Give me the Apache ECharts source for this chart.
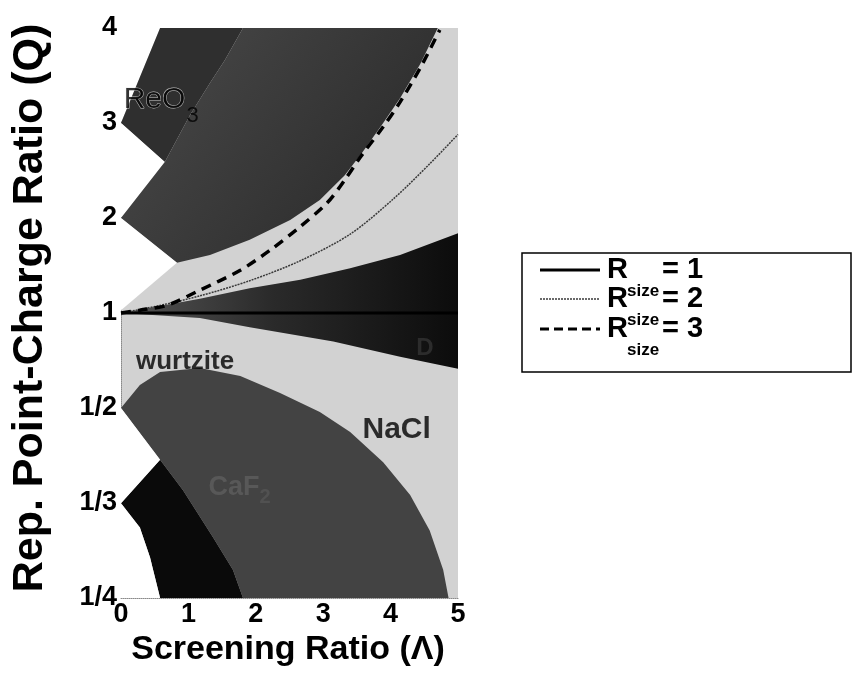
<!DOCTYPE html>
<html>
<head>
<meta charset="utf-8">
<script src="https://cdn.jsdelivr.net/npm/echarts@6/dist/echarts.min.js"></script>
<style>
  html, body { margin: 0; padding: 0; background: #ffffff; }
  #chart { width: 853px; height: 679px; }
</style>
</head>
<body>
<div id="chart"></div>
<script>
// ---- axis ticks ----
const lambdaTicks = [0, 1, 2, 3, 4, 5];
const qTickLabels = ['1/4', '1/3', '1/2', '1', '2', '3', '4'];

// ---- phase regions, vertices as [Λ, Q] ----
const whiteTopLeft = [[0, 4], [0.58, 4], [0, 3]];
const regionReO3 = [[0, 3], [0.58, 4], [1.81, 4], [1.54, 3.66], [1.32, 3.42], [1.02, 3.08], [0.65, 2.59]];
const whiteNotchUpper = [[0, 3], [0.65, 2.59], [0, 2]];
const regionUpperDark = [
  [0.65, 2.59], [1.02, 3.08], [1.32, 3.42], [1.54, 3.66], [1.81, 4], [4.70, 4],
  [4.44, 3.62], [4.14, 3.26], [3.89, 3.0], [3.58, 2.69], [3.32, 2.45], [2.95, 2.19],
  [2.51, 1.98], [1.91, 1.77], [1.32, 1.61], [0.83, 1.53], [0, 2]
];
const whiteTriangle = [[0, 2], [0.83, 1.53], [0, 1.03]];
const wedgeUpper = [[0, 1], [1.17, 1.15], [1.91, 1.26], [2.66, 1.35], [3.40, 1.47], [4.14, 1.61], [5, 1.84]];
const wedgeLower = [[5, 0.63], [4.14, 0.685], [3.15, 0.77], [1.91, 0.87], [1.17, 0.95], [0, 1]];
const regionCaF2 = [
  [0, 0.5], [0.28, 0.569], [0.58, 0.617], [1.17, 0.633], [1.77, 0.601], [2.36, 0.543],
  [2.95, 0.490], [3.40, 0.444], [3.89, 0.389], [4.29, 0.343], [4.58, 0.304], [4.78, 0.270],
  [4.86, 0.25], [1.81, 0.25], [1.66, 0.270], [1.36, 0.298], [0.92, 0.349], [0.58, 0.393]
];
const regionBottomBlack = [
  [0.58, 0.393], [0, 0.333], [0.28, 0.307], [0.43, 0.280], [0.58, 0.25], [1.81, 0.25],
  [1.66, 0.270], [1.36, 0.298], [0.92, 0.349]
];
const whiteNotchLower = [[0, 0.5], [0.58, 0.393], [0, 0.333]];
const whiteBottomLeft = [[0, 0.333], [0.28, 0.307], [0.43, 0.280], [0.58, 0.25], [0, 0.25]];

// ---- boundary curves, [Λ, Q] ----
const lineRsize1 = [[0, 1], [5, 1]];
const lineRsize2 = [[0, 1], [0.58, 1.08], [1.17, 1.18], [1.91, 1.34], [2.66, 1.55], [3.40, 1.83], [4.04, 2.20], [4.58, 2.57], [5, 2.88]];
const lineRsize3 = [[0, 1], [0.28, 1.03], [0.68, 1.08], [1.17, 1.24], [1.77, 1.45], [2.21, 1.66], [2.66, 1.91], [3.06, 2.16], [3.32, 2.40], [3.55, 2.64], [3.89, 2.96], [4.14, 3.22], [4.44, 3.58], [4.73, 3.98]];

// ---- region names, [Λ, Q, text, alignment] ----
const regionLabels = [
  [0.04, 3.25, '{n|ReO}{s|3}', 'left'],
  [0.95, 0.66, '{b|wurtzite}', 'center'],
  [4.09, 0.448, '{c|NaCl}', 'center'],
  [1.76, 0.353, '{f|CaF}{fs|2}', 'center'],
  [4.51, 0.73, '{d|D}', 'center']
];

// Q axis: linear in Q above 1, linear in 1/Q below 1
const toAxis = q => (q >= 1 ? q - 1 : 1 - 1 / q);
const toPoints = arr => arr.map(p => [p[0], toAxis(p[1])]);

const FONT = '"Liberation Sans", Arial, sans-serif';

function region(name, vertices, fill, z) {
  return {
    type: 'custom',
    name: name,
    coordinateSystem: 'cartesian2d',
    silent: true,
    z: z,
    data: toPoints(vertices),
    encode: { x: 0, y: 1 },
    renderItem: function (params, api) {
      if (params.dataIndex !== 0) return null;
      const pts = vertices.map(v => api.coord([v[0], toAxis(v[1])]));
      return { type: 'polygon', shape: { points: pts }, style: { fill: fill } };
    }
  };
}

const chart = echarts.init(document.getElementById('chart'), null, { renderer: 'canvas' });

const legendRows = [
  { y: 270, value: '1' },
  { y: 299, value: '2' },
  { y: 329, value: '3' }
];
const legendText = [];
legendRows.forEach(r => {
  legendText.push(
    { type: 'text', x: 607, y: r.y, z: 11, style: { text: 'R', font: 'bold 29px ' + FONT, fill: '#000', textVerticalAlign: 'middle' } },
    { type: 'text', x: 627, y: r.y + 21, z: 11, style: { text: 'size', font: 'bold 17px ' + FONT, fill: '#000', textVerticalAlign: 'middle' } },
    { type: 'text', x: 662, y: r.y, z: 11, style: { text: '= ' + r.value, font: 'bold 29px ' + FONT, fill: '#000', textVerticalAlign: 'middle' } }
  );
});

const option = {
  animation: false,
  backgroundColor: '#ffffff',
  grid: {
    left: 121, right: 395, top: 28, bottom: 81,
    show: true, backgroundColor: '#d2d2d2', borderWidth: 0
  },
  xAxis: {
    type: 'value', min: lambdaTicks[0], max: lambdaTicks[lambdaTicks.length - 1], interval: 1,
    axisLine: { onZero: false, lineStyle: { color: '#8a8a8a', width: 1, type: 'dotted' } },
    axisTick: { show: false },
    splitLine: { show: false },
    axisLabel: { fontSize: 27, fontWeight: 'bold', color: '#000', fontFamily: FONT, margin: 3 }
  },
  yAxis: {
    type: 'value', min: -3, max: 3, interval: 1,
    axisLine: { onZero: false, lineStyle: { color: '#8a8a8a', width: 1, type: 'dotted' } },
    axisTick: { show: false },
    splitLine: { show: false },
    axisLabel: {
      fontSize: 27, fontWeight: 'bold', color: '#000', fontFamily: FONT, margin: 4,
      formatter: v => qTickLabels[Math.round(v) + 3]
    }
  },
  series: [
    region('white-top', whiteTopLeft, '#ffffff', 1),
    region('ReO3', regionReO3, '#2f2f2f', 1),
    region('white-notch-upper', whiteNotchUpper, '#ffffff', 1),
    region('upper-dark', regionUpperDark, {
      type: 'linear', x: 0, y: 0, x2: 1, y2: 1,
      colorStops: [{ offset: 0, color: '#4a4a4a' }, { offset: 1, color: '#262626' }]
    }, 1),
    region('white-triangle', whiteTriangle, '#ffffff', 1),
    region('wedge', wedgeUpper.concat(wedgeLower), {
      type: 'linear', x: 0, y: 0, x2: 1, y2: 0,
      colorStops: [{ offset: 0, color: '#555555' }, { offset: 0.45, color: '#2a2a2a' }, { offset: 1, color: '#0c0c0c' }]
    }, 1),
    region('CaF2', regionCaF2, '#434343', 1),
    region('bottom-black', regionBottomBlack, '#0a0a0a', 1),
    region('white-notch-lower', whiteNotchLower, '#ffffff', 1),
    region('white-bottom', whiteBottomLeft, '#ffffff', 1),
    {
      type: 'line', name: 'R1', data: toPoints(lineRsize1), symbol: 'none', z: 4,
      lineStyle: { color: '#000', width: 3 }
    },
    {
      type: 'line', name: 'R2', data: toPoints(lineRsize2), symbol: 'none', smooth: 0.3, z: 4,
      lineStyle: { color: '#3a3a3a', width: 1.5, type: [2, 1] }
    },
    {
      type: 'line', name: 'R3', data: toPoints(lineRsize3), symbol: 'none', smooth: 0.3, z: 4,
      lineStyle: { color: '#000', width: 3.5, type: [10, 7] }
    },
    {
      type: 'scatter', name: 'labels', z: 6, silent: true, symbolSize: 0,
      data: regionLabels.map(l => ({ value: [l[0], toAxis(l[1])], text: l[2], label: { align: l[3] } })),
      label: {
        show: true, position: 'inside',
        formatter: p => p.data.text,
        rich: {
          n: { fontSize: 30, color: '#000', fontFamily: FONT, textBorderColor: '#e6e6e6', textBorderWidth: 0.8 },
          s: { fontSize: 22, color: '#000', fontFamily: FONT, padding: [34, 0, 0, 1] },
          b: { fontSize: 26, fontWeight: 'bold', color: '#000', fontFamily: FONT },
          c: { fontSize: 30, fontWeight: 'bold', color: '#000', fontFamily: FONT },
          f: { fontSize: 27, fontWeight: 'bold', color: '#5e5e5e', fontFamily: FONT },
          fs: { fontSize: 20, fontWeight: 'bold', color: '#555555', fontFamily: FONT, padding: [20, 0, 0, 0] },
          d: { fontSize: 24, fontWeight: 'bold', color: '#333333', fontFamily: FONT }
        }
      }
    }
  ],
  graphic: [
    {
      type: 'text', x: 30, y: 308, rotation: Math.PI / 2,
      style: { text: 'Rep. Point-Charge Ratio (Q)', font: 'bold 43px ' + FONT, fill: '#000', textAlign: 'center', textVerticalAlign: 'middle' }
    },
    {
      type: 'text', x: 288, y: 650,
      style: { text: 'Screening Ratio (Λ)', font: 'bold 34px ' + FONT, fill: '#000', textAlign: 'center', textVerticalAlign: 'middle' }
    },
    // legend box and samples
    { type: 'rect', shape: { x: 522, y: 253, width: 329, height: 119 }, style: { fill: '#fff', stroke: '#000', lineWidth: 1.5 }, z: 10 },
    { type: 'line', shape: { x1: 540, y1: 270, x2: 600, y2: 270 }, style: { stroke: '#000', lineWidth: 3 }, z: 11 },
    { type: 'line', shape: { x1: 540, y1: 299, x2: 600, y2: 299 }, style: { stroke: '#3a3a3a', lineWidth: 1.5, lineDash: [2, 1] }, z: 11 },
    { type: 'line', shape: { x1: 540, y1: 329, x2: 600, y2: 329 }, style: { stroke: '#000', lineWidth: 3, lineDash: [9, 5] }, z: 11 }
  ].concat(legendText)
};

chart.setOption(option);
</script>
</body>
</html>
